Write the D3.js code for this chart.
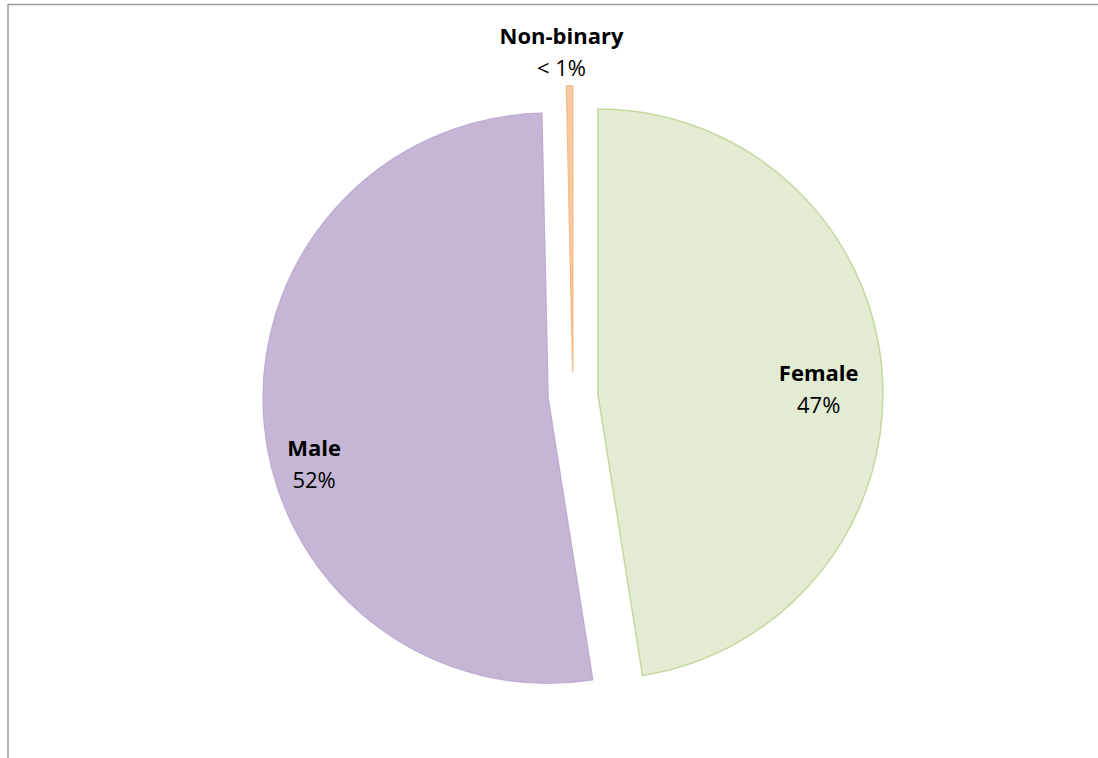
<!DOCTYPE html>
<html>
<head>
<meta charset="utf-8">
<script src="https://cdn.jsdelivr.net/npm/d3@7"></script>
<style>
	body { margin: 0; background: #fff; }
	svg { display: block; }
	text { font-family: "Open Sans", "DejaVu Sans", sans-serif; fill: #000; }
</style>
</head>
<body>
<div id="chart"></div>
<script>
//----
//Data
//----
var categories = ['Female', 'Male', 'Non-binary']
var shares = [47.5, 52.15, 0.35]
var valueLabels = ['47%', '52%', '< 1%']

//Colours per slice
var fills = ['#e3ebd3', '#c6b6d6', '#fbcca4']
var strokes = ['#c5d89f', '#bfaed4', '#f7bb8a']

//Label placement (angle in degrees clockwise from top, distance as fraction of radius)
var labelAngles = [88, 255, 358]
var labelDist = [0.775, 0.85, 1.13]

//----------------
//Local Properties
//----------------
var _width = 1098,
	_height = 758,
	_cx = 573,
	_cy = 396,
	_radius = 285,
	_explode = 25

var _svg = d3.select('#chart').append('svg')
	.attr('width', _width)
	.attr('height', _height)

//Chart area frame (runs off the page on the right and bottom)
_svg.append('rect')
	.attr('x', 8)
	.attr('y', 4.5)
	.attr('width', 1200)
	.attr('height', 1000)
	.attr('fill', 'none')
	.attr('stroke', '#9a9a9a')
	.attr('stroke-width', 1.5)

var data = categories.map(function(c, i){
	return { name: c, value: shares[i], label: valueLabels[i], i: i }
})

var pie = d3.pie()
	.sort(null)
	.value(function(d){ return d.value })

var arc = d3.arc()
	.innerRadius(0)
	.outerRadius(_radius)

var arcs = pie(data)

var g = _svg.append('g')
	.attr('transform', 'translate(' + _cx + ',' + _cy + ')')

//Draw the exploded slices
g.selectAll('path.slice').data(arcs)
	.enter().append('path')
	.classed('slice', true)
	.attr('d', arc)
	.attr('transform', function(d){
		var a = (d.startAngle + d.endAngle) / 2
		return 'translate(' + (Math.sin(a) * _explode) + ',' + (-Math.cos(a) * _explode) + ')'
	})
	.attr('fill', function(d){ return fills[d.data.i] })
	.attr('stroke', function(d){ return strokes[d.data.i] })
	.attr('stroke-width', 1.5)
	.attr('stroke-linejoin', 'round')

//Labels: bold category over the percentage
var lab = g.selectAll('g.label').data(arcs)
	.enter().append('g')
	.classed('label', true)
	.attr('transform', function(d){
		var i = d.data.i
		var a = labelAngles[i] * Math.PI / 180
		var r = labelDist[i] * _radius
		var mid = (d.startAngle + d.endAngle) / 2
		var ox = Math.sin(mid) * _explode,
			oy = -Math.cos(mid) * _explode
		return 'translate(' + (ox + Math.sin(a) * r) + ',' + (oy - Math.cos(a) * r) + ')'
	})

lab.append('text')
	.attr('text-anchor', 'middle')
	.attr('y', -5)
	.attr('font-size', 22)
	.attr('font-weight', 'bold')
	.text(function(d){ return d.data.name })

lab.append('text')
	.attr('text-anchor', 'middle')
	.attr('y', 27)
	.attr('font-size', 22)
	.text(function(d){ return d.data.label })
</script>
</body>
</html>
